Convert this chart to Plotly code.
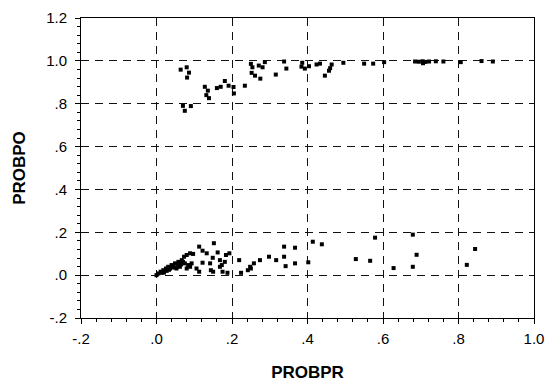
import plotly.graph_objects as go

# Upper cluster (PROBPO near 1)
upper_x = [0.064, 0.080, 0.086, 0.081, 0.128, 0.136, 0.132, 0.139, 0.160, 0.170, 0.181, 0.191,
           0.204, 0.205, 0.234, 0.070, 0.075, 0.091, 0.250, 0.254, 0.252, 0.261, 0.275, 0.271,
           0.281, 0.287, 0.316, 0.338, 0.344, 0.386, 0.384, 0.393, 0.404, 0.424, 0.433, 0.446,
           0.457, 0.464, 0.460, 0.495, 0.550, 0.574, 0.603, 0.685, 0.695, 0.705, 0.712, 0.722,
           0.740, 0.760, 0.706, 0.806, 0.861, 0.891]
upper_y = [0.959, 0.970, 0.945, 0.922, 0.879, 0.861, 0.840, 0.826, 0.873, 0.879, 0.906, 0.884,
           0.878, 0.848, 0.884, 0.790, 0.767, 0.789, 0.986, 0.970, 0.944, 0.931, 0.917, 0.978,
           0.970, 0.994, 0.936, 0.997, 0.964, 0.991, 0.973, 0.964, 0.975, 0.983, 0.987, 0.931,
           0.954, 0.983, 0.966, 0.991, 0.987, 0.987, 0.994, 0.997, 0.996, 0.998, 0.995, 0.997,
           0.998, 0.997, 0.989, 0.994, 0.999, 0.997]

# Lower cluster (PROBPO near 0)
lower_x = [0.000, 0.005, 0.011, 0.018, 0.025, 0.031, 0.040, 0.049, 0.058, 0.044, 0.053, 0.062,
           0.067, 0.073, 0.080, 0.089, 0.097, 0.075, 0.084, 0.089, 0.093, 0.080, 0.036, 0.027,
           0.014, 0.113, 0.122, 0.152, 0.133, 0.149, 0.162, 0.142, 0.122, 0.106, 0.113, 0.144,
           0.150, 0.168, 0.173, 0.168, 0.175, 0.181, 0.184, 0.193, 0.188, 0.219, 0.224, 0.242,
           0.248, 0.250, 0.258, 0.274, 0.298, 0.317, 0.338, 0.338, 0.342, 0.367, 0.367, 0.402,
           0.414, 0.438, 0.579, 0.528, 0.566, 0.628, 0.679, 0.689, 0.679, 0.844, 0.822,
           0.020, 0.033, 0.047, 0.056, 0.065, 0.060, 0.070]
lower_y = [0.000, 0.008, 0.016, 0.023, 0.031, 0.039, 0.047, 0.055, 0.062, 0.039, 0.031, 0.039,
           0.070, 0.086, 0.094, 0.102, 0.099, 0.055, 0.047, 0.039, 0.055, 0.031, 0.031, 0.020,
           0.011, 0.133, 0.114, 0.149, 0.102, 0.081, 0.106, 0.055, 0.058, 0.031, 0.016, 0.023,
           0.016, 0.070, 0.047, 0.039, 0.016, 0.062, 0.094, 0.102, 0.011, 0.070, 0.011, 0.023,
           0.039, 0.031, 0.055, 0.070, 0.086, 0.070, 0.133, 0.086, 0.042, 0.128, 0.055, 0.060,
           0.156, 0.144, 0.175, 0.075, 0.067, 0.033, 0.189, 0.095, 0.039, 0.122, 0.048,
           0.012, 0.025, 0.035, 0.048, 0.050, 0.058, 0.062]

x_tickvals = [-0.2, 0.0, 0.2, 0.4, 0.6, 0.8, 1.0]
x_ticktext = ["-.2", ".0", ".2", ".4", ".6", ".8", "1.0"]
y_tickvals = [-0.2, 0.0, 0.2, 0.4, 0.6, 0.8, 1.0, 1.2]
y_ticktext = ["-.2", ".0", ".2", ".4", ".6", ".8", "1.0", "1.2"]

FONT = "Liberation Sans, Arial, sans-serif"

fig = go.Figure()
fig.add_trace(go.Scatter(
    x=upper_x + lower_x, y=upper_y + lower_y, mode="markers",
    marker=dict(symbol="square", size=4, color="black", line=dict(width=0)),
    showlegend=False, cliponaxis=False,
))

axis_common = dict(
    showline=True, linecolor="black", linewidth=1, mirror=True,
    ticks="outside", ticklen=5, tickcolor="black", tickwidth=1,
    showgrid=True, gridcolor="#111", gridwidth=1, griddash="8px,6px",
    zeroline=False, automargin=False,
    tickfont=dict(family=FONT, size=15, color="black"),
    minor=dict(ticks="outside", ticklen=3, tickcolor="black", dtick=0.04, showgrid=False),
)

fig.update_xaxes(range=[-0.2, 1.0], tickvals=x_tickvals, ticktext=x_ticktext,
                 ticklabelstandoff=2,
                 title=dict(text="<b>PROBPR</b>", standoff=20,
                            font=dict(family=FONT, size=17, color="black")),
                 **axis_common)
fig.update_yaxes(range=[-0.2, 1.2], tickvals=y_tickvals, ticktext=y_ticktext,
                 ticklabelstandoff=5,
                 title=dict(text="<b>PROBPO</b>", standoff=16,
                            font=dict(family=FONT, size=17, color="black")),
                 **axis_common)

fig.update_layout(
    width=548, height=384,
    margin=dict(l=81, r=14, t=18, b=66),
    paper_bgcolor="white", plot_bgcolor="white",
)

fig.write_html("out.html")
